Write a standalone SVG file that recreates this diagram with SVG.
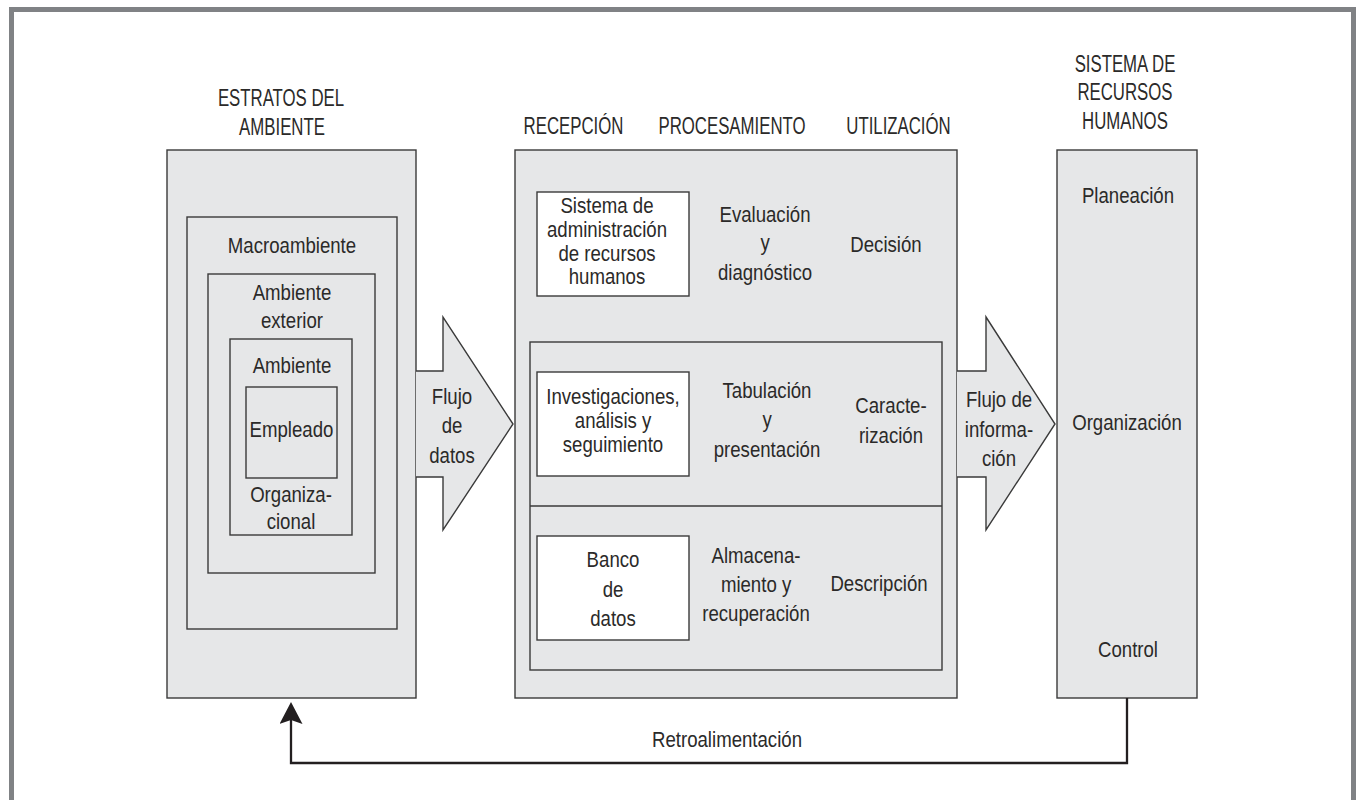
<svg xmlns="http://www.w3.org/2000/svg" width="1356" height="800" viewBox="0 0 1356 800">
<defs>
<style>
.box{fill:#e6e7e8;stroke:#3a3a3a;stroke-width:1.4}
.wbox{fill:#ffffff;stroke:#3a3a3a;stroke-width:1.4}
.ln{fill:none;stroke:#3a3a3a;stroke-width:1.4}
text{font-family:'Liberation Sans',Arial,sans-serif;font-size:23px;fill:#2b2a29;text-anchor:middle;transform-box:fill-box;transform-origin:50% 50%;transform:scaleX(0.81)}
text.cap{transform:scaleX(0.73)}
.fb{fill:none;stroke:#231f20;stroke-width:2.3}
</style>
<marker id="ah" markerWidth="22" markerHeight="23" refX="4" refY="11.5" orient="auto" markerUnits="userSpaceOnUse" viewBox="0 0 22 23">
<path d="M0,0 L22,11.5 L0,23 L4,11.5 Z" fill="#231f20"/>
</marker>
</defs>
<rect width="1356" height="800" fill="#ffffff"/>
<rect x="11.5" y="9.5" width="1342" height="820" fill="none" stroke="#808285" stroke-width="5"/>

<g id="estratos">
<text class="cap" x="281" y="106">ESTRATOS DEL</text>
<text class="cap" x="282" y="135">AMBIENTE</text>
<rect class="box" x="167" y="150" width="249" height="548"/>
<rect class="box" x="187" y="217" width="210" height="412"/>
<text x="292" y="253">Macroambiente</text>
<rect class="box" x="208" y="274" width="167" height="299"/>
<text x="292" y="300">Ambiente</text>
<text x="292" y="328">exterior</text>
<rect class="box" x="230" y="339" width="122" height="196"/>
<text x="292" y="373">Ambiente</text>
<rect class="box" x="246" y="387" width="91" height="91"/>
<text x="291.5" y="437">Empleado</text>
<text x="291" y="502">Organiza-</text>
<text x="291" y="529">cional</text>
</g>

<g id="flujo-datos">
<path class="box" d="M416,371 H443 V317 L513,424 L443,530 V477 H416"/>
<text x="452" y="404">Flujo</text>
<text x="452" y="433">de</text>
<text x="452" y="463">datos</text>
</g>

<g id="headers">
<text class="cap" x="573.5" y="134">RECEPCIÓN</text>
<text class="cap" x="732" y="134">PROCESAMIENTO</text>
<text class="cap" x="898.5" y="134">UTILIZACIÓN</text>
</g>

<g id="procesamiento">
<rect class="box" x="515" y="150" width="442" height="548"/>
<rect class="box" x="530" y="342" width="412" height="328"/>
<line class="ln" x1="530" y1="506" x2="942" y2="506"/>
</g>

<g id="sistema-admin">
<rect class="wbox" x="537" y="192" width="152" height="104"/>
<text x="607" y="213">Sistema de</text>
<text x="607" y="237">administración</text>
<text x="607" y="261">de recursos</text>
<text x="607" y="284">humanos</text>
<text x="765" y="222">Evaluación</text>
<text x="765" y="250">y</text>
<text x="765" y="280">diagnóstico</text>
<text x="886" y="252">Decisión</text>
</g>

<g id="investigaciones">
<rect class="wbox" x="537" y="372" width="152" height="104"/>
<text x="613" y="404">Investigaciones,</text>
<text x="613" y="428">análisis y</text>
<text x="613" y="452">seguimiento</text>
<text x="767" y="398">Tabulación</text>
<text x="767" y="427">y</text>
<text x="767" y="457">presentación</text>
<text x="891" y="413">Caracte-</text>
<text x="891" y="443">rización</text>
</g>

<g id="banco">
<rect class="wbox" x="537" y="536" width="152" height="104"/>
<text x="613" y="567">Banco</text>
<text x="613" y="597">de</text>
<text x="613" y="626">datos</text>
<text x="756" y="563">Almacena-</text>
<text x="756" y="592">miento y</text>
<text x="756" y="621">recuperación</text>
<text x="879" y="591">Descripción</text>
</g>

<g id="flujo-informacion">
<path class="box" d="M957,371 H986 V317 L1055,424 L986,530 V477 H957"/>
<text x="999" y="407">Flujo de</text>
<text x="999" y="437">informa-</text>
<text x="999" y="466">ción</text>
</g>

<g id="sistema-rh">
<text class="cap" x="1125" y="72">SISTEMA DE</text>
<text class="cap" x="1125" y="100">RECURSOS</text>
<text class="cap" x="1125" y="129">HUMANOS</text>
<rect class="box" x="1057" y="150" width="140" height="548"/>
<text x="1128" y="203">Planeación</text>
<text x="1127" y="430">Organización</text>
<text x="1128" y="657">Control</text>
</g>

<g id="connectors">
<path class="fb" d="M1127,698 V763 H291 V720" marker-end="url(#ah)"/>
<text x="727" y="747">Retroalimentación</text>
</g>
</svg>
